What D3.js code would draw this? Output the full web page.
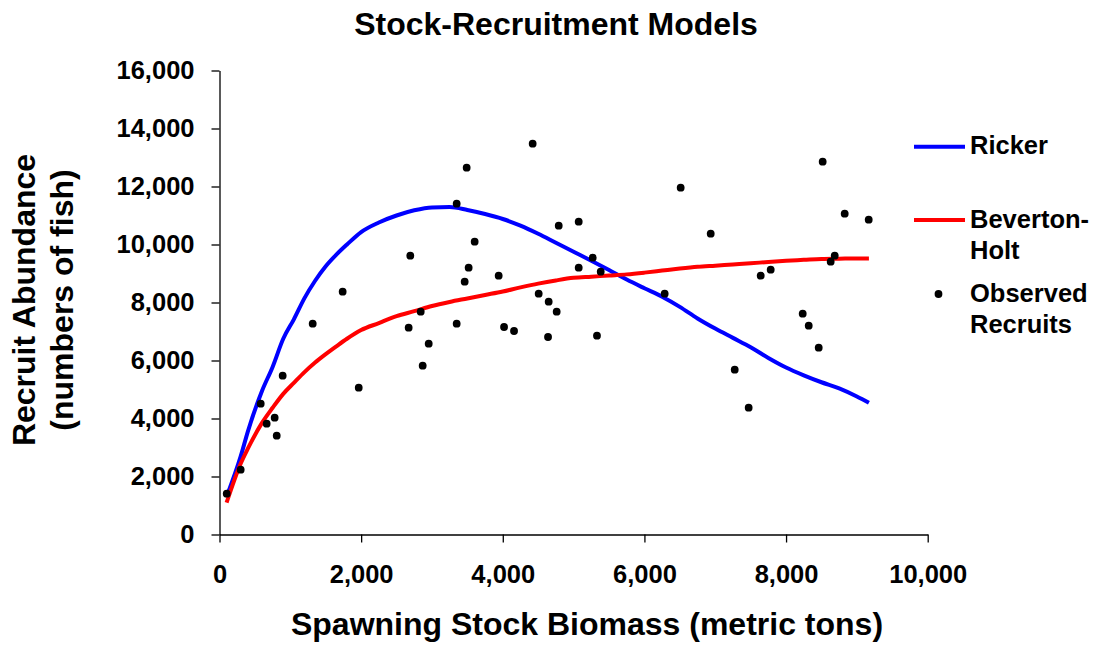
<!DOCTYPE html>
<html>
<head>
<meta charset="utf-8">
<script src="https://cdn.jsdelivr.net/npm/d3@7"></script>
<style>
  html, body { margin: 0; padding: 0; background: #fff; }
  svg { display: block; font-family: Arial, "Liberation Sans", sans-serif; font-weight: bold; }
</style>
</head>
<body>
<svg id="chart" width="1093" height="647"></svg>
<script>
// Observed recruits (spawning stock biomass, recruit abundance)
const obsStock = [102, 299, 582, 666, 779, 808, 892, 1316, 1739, 1966, 2671, 2694, 2841, 2869, 2954,
  3349, 3349, 3462, 3490, 3518, 3603, 3942, 4018, 4159, 4422, 4507, 4639, 4648, 4761, 4790,
  5072, 5072, 5270, 5330, 5383, 6286, 6512, 6936, 7275, 7472, 7642, 7783, 8235, 8320, 8461,
  8517, 8630, 8687, 8828, 9167];
const obsRecruits = [1407, 2234, 4510, 3821, 4028, 3407, 5476, 7269, 8372, 5062, 7131, 9614, 7683, 5821, 6579,
  7269, 11407, 8717, 12648, 9200, 10097, 8924, 7155, 7017, 13476, 8303, 6810, 8028, 7683, 10648,
  10786, 9200, 9545, 6855, 9062, 8303, 11959, 10372, 5683, 4372, 8924, 9131, 7614, 7200, 6441,
  12855, 9407, 9614, 11062, 10855];

// Model curves read at these stock levels
const curveStock = [100, 300, 400, 600, 750, 900, 1050, 1200, 1350, 1500, 1650, 1800, 2000, 2250, 2500,
  2750, 3000, 3250, 3500, 3750, 4000, 4250, 4500, 4750, 5000, 5250, 5500, 5750, 6000, 6250, 6500,
  6750, 7000, 7250, 7500, 7750, 8000, 8250, 8500, 8750, 9000, 9170];
const rickerValues = [1300, 2700, 3550, 4950, 5780, 6750, 7420, 8150, 8750, 9250, 9650, 10000, 10430, 10760, 11000,
  11180, 11280, 11290, 11190, 11050, 10880, 10650, 10370, 10060, 9750, 9440, 9120, 8790, 8490, 8200, 7850,
  7450, 7100, 6780, 6460, 6090, 5760, 5490, 5250, 5040, 4760, 4540];
const bevHoltValues = [1100, 2450, 2960, 3850, 4370, 4850, 5230, 5600, 5930, 6220, 6490, 6750, 7050, 7290, 7530,
  7700, 7880, 8020, 8140, 8260, 8380, 8520, 8650, 8760, 8850, 8890, 8930, 8970, 9030, 9100, 9170,
  9230, 9270, 9310, 9350, 9400, 9440, 9470, 9500, 9510, 9520, 9520];

const xTicks = [0, 2000, 4000, 6000, 8000, 10000];
const yTicks = [0, 2000, 4000, 6000, 8000, 10000, 12000, 14000, 16000];

const titleText = "Stock-Recruitment Models";
const xTitle = "Spawning Stock Biomass (metric tons)";
const yTitleLines = ["Recruit Abundance", "(numbers of fish)"];
const legendItems = [
  { type: "line", color: "#0000ff", lines: ["Ricker"] },
  { type: "line", color: "#ff0000", lines: ["Beverton-", "Holt"] },
  { type: "dot", color: "#000000", lines: ["Observed", "Recruits"] }
];

const svg = d3.select("#chart");
const x = d3.scaleLinear().domain([0, 10000]).range([219.5, 927.7]);
const y = d3.scaleLinear().domain([0, 16000]).range([534.5, 70.5]);
const fmt = d3.format(",");

// Axes
const xAxis = svg.append("g").attr("transform", `translate(0,${y(0)})`)
  .call(d3.axisBottom(x).tickValues(xTicks).tickFormat(fmt).tickSize(8).tickSizeOuter(0).tickPadding(22));
const yAxis = svg.append("g").attr("transform", `translate(${x(0)},0)`)
  .call(d3.axisLeft(y).tickValues(yTicks).tickFormat(fmt).tickSize(8).tickSizeOuter(0).tickPadding(17));
[xAxis, yAxis].forEach(g => {
  g.select(".domain").attr("stroke", "#000").attr("stroke-width", 1.3);
  g.selectAll(".tick line").attr("stroke", "#000").attr("stroke-width", 1.3);
  g.selectAll(".tick text").attr("fill", "#000").style("font-size", "25.5px")
    .style("font-weight", "bold").style("font-family", "Arial, 'Liberation Sans', sans-serif");
});

// Curves
const line = d3.line().curve(d3.curveMonotoneX).x(d => x(d[0])).y(d => y(d[1]));
svg.append("path").datum(curveStock.map((s, i) => [s, rickerValues[i]]))
  .attr("d", line).attr("fill", "none").attr("stroke", "#0000ff").attr("stroke-width", 4)
  .attr("stroke-linejoin", "round");
svg.append("path").datum(curveStock.map((s, i) => [s, bevHoltValues[i]]))
  .attr("d", line).attr("fill", "none").attr("stroke", "#ff0000").attr("stroke-width", 4)
  .attr("stroke-linejoin", "round");

// Observations
svg.append("g").selectAll("circle").data(obsStock.map((s, i) => [s, obsRecruits[i]]))
  .join("circle").attr("cx", d => x(d[0])).attr("cy", d => y(d[1])).attr("r", 3.9).attr("fill", "#000");

// Titles
svg.append("text").attr("x", 556).attr("y", 35).attr("text-anchor", "middle")
  .style("font-size", "32px").text(titleText);
svg.append("text").attr("x", 587).attr("y", 635).attr("text-anchor", "middle")
  .style("font-size", "32px").text(xTitle);
const yt = svg.append("text").attr("transform", "translate(35,300) rotate(-90)")
  .attr("text-anchor", "middle").style("font-size", "32px");
yTitleLines.forEach((t, i) => yt.append("tspan").attr("x", 0).attr("dy", i === 0 ? 0 : 38).text(t));

// Legend
const legendY = [146.7, 220, 294];
legendItems.forEach((item, i) => {
  const g = svg.append("g");
  if (item.type === "line") {
    g.append("line").attr("x1", 914).attr("x2", 965).attr("y1", legendY[i]).attr("y2", legendY[i])
      .attr("stroke", item.color).attr("stroke-width", 4);
  } else {
    g.append("circle").attr("cx", 938.5).attr("cy", legendY[i]).attr("r", 3.9).attr("fill", item.color);
  }
  const t = g.append("text").attr("x", 970).attr("y", legendY[i] + 7.5).style("font-size", "25.5px");
  item.lines.forEach((l, j) => t.append("tspan").attr("x", 970).attr("dy", j === 0 ? 0 : 31).text(l));
});
</script>
</body>
</html>
